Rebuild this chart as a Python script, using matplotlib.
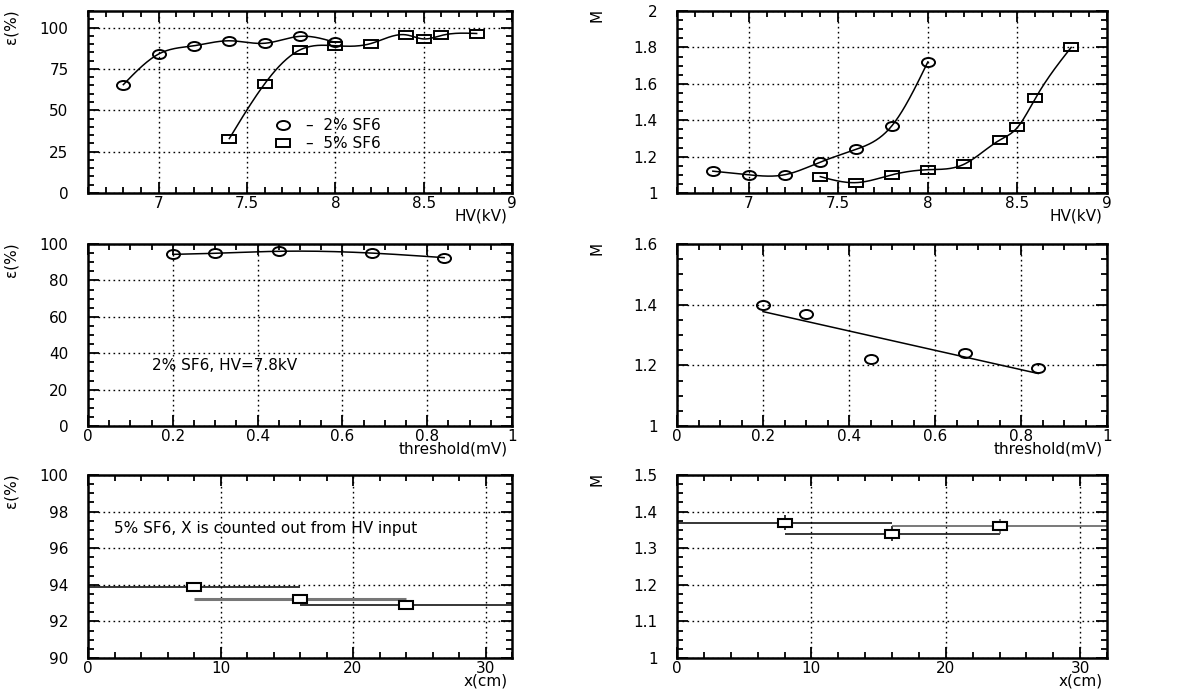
import numpy as np
import matplotlib.pyplot as plt
from matplotlib.markers import MarkerStyle
from matplotlib.transforms import Affine2D
from matplotlib.ticker import MultipleLocator, FormatStrFormatter
from matplotlib.lines import Line2D

# ---- data ----
hv_2 = [6.8, 7.0, 7.2, 7.4, 7.6, 7.8, 8.0]
eff_2 = [65.5, 84.0, 89.0, 92.0, 90.5, 94.7, 91.0]
hv_5 = [7.4, 7.6, 7.8, 8.0, 8.2, 8.4, 8.5, 8.6, 8.8]
eff_5 = [32.9, 66.0, 86.5, 89.0, 90.3, 95.6, 93.1, 95.2, 96.4]

m_2 = [1.12, 1.10, 1.10, 1.17, 1.24, 1.37, 1.72]
m_5 = [1.09, 1.057, 1.10, 1.128, 1.157, 1.29, 1.36, 1.52, 1.80]

thr = [0.2, 0.3, 0.45, 0.67, 0.84]
eff_thr = [94.3, 94.9, 96.0, 95.0, 92.5]
m_thr = [1.40, 1.37, 1.22, 1.24, 1.19]

xpos = [8, 16, 24]
xpos_err = [8, 8, 8]
eff_x = [93.9, 93.2, 92.9]
m_x = [1.37, 1.34, 1.36]
m_x_err = [0.02, 0.02, 0.02]


def spline(x, y, n=200):
    '''natural cubic spline, only used to draw the smooth curve'''
    x = np.asarray(x, float)
    y = np.asarray(y, float)
    k = len(x)
    h = np.diff(x)
    A = np.zeros((k, k))
    b = np.zeros(k)
    A[0, 0] = A[-1, -1] = 1
    for i in range(1, k - 1):
        A[i, i - 1] = h[i - 1]
        A[i, i] = 2 * (h[i - 1] + h[i])
        A[i, i + 1] = h[i]
        b[i] = 6 * ((y[i + 1] - y[i]) / h[i] - (y[i] - y[i - 1]) / h[i - 1])
    M = np.linalg.solve(A, b)
    xs = np.linspace(x[0], x[-1], n)
    j = np.clip(np.searchsorted(x, xs) - 1, 0, k - 2)
    t1 = x[j + 1] - xs
    t0 = xs - x[j]
    hj = h[j]
    ys = (M[j] * t1 ** 3 + M[j + 1] * t0 ** 3) / (6 * hj) \
        + (y[j] / hj - M[j] * hj / 6) * t1 + (y[j + 1] / hj - M[j + 1] * hj / 6) * t0
    return xs, ys


circ = MarkerStyle('o', transform=Affine2D().scale(1.45, 1.0))
sq = MarkerStyle('s', transform=Affine2D().scale(1.6, 1.0))
sq2 = MarkerStyle('s', transform=Affine2D().scale(1.75, 1.0))

plt.rcParams['font.family'] = ['DejaVu Sans']
plt.rcParams['font.size'] = 11

fig = plt.figure(figsize=(11.78, 6.91), dpi=100)
W, H = 1178, 691


def make_ax(left, right, top, bottom):
    return fig.add_axes([left / W, 1 - bottom / H, (right - left) / W, (bottom - top) / H])


def style(ax, xlim, ylim, xmaj, xmin, ymaj, ymin, xlabel, ylabel, ylab_x):
    ax.set_xlim(*xlim)
    ax.set_ylim(*ylim)
    ax.xaxis.set_major_locator(MultipleLocator(xmaj))
    ax.xaxis.set_minor_locator(MultipleLocator(xmin))
    ax.yaxis.set_major_locator(MultipleLocator(ymaj))
    ax.yaxis.set_minor_locator(MultipleLocator(ymin))
    ax.xaxis.set_major_formatter(FormatStrFormatter('%g'))
    ax.yaxis.set_major_formatter(FormatStrFormatter('%g'))
    ax.tick_params(which='both', direction='in', top=True, right=True, width=1.3)
    ax.tick_params(which='major', length=8)
    ax.tick_params(which='minor', length=4.5)
    ax.tick_params(axis='y', pad=14)
    ax.tick_params(axis='x', pad=2)
    ax.grid(True, which='major', color='black', linestyle=(0, (1.2, 2.4)), linewidth=1.0)
    for s in ax.spines.values():
        s.set_linewidth(1.8)
    ax.annotate(xlabel, xy=(0.99, 0), xycoords='axes fraction', xytext=(0, -11.5),
                textcoords='offset points', ha='right', va='top')
    top = ax.get_position().y1
    fig.text(ylab_x / W, top + 0.003, ylabel, ha='center', va='top', rotation=90)
    ax.set_axisbelow(True)


lx0, lx1 = 88, 512
rx0, rx1 = 677, 1107
rows = [(11, 193), (244, 426), (475, 658)]

# ---- efficiency vs HV ----
ax = make_ax(lx0, lx1, *rows[0])
style(ax, (6.6, 9), (0, 110), 0.5, 0.1, 25, 5, 'HV(kV)', 'ε(%)', 11)
ax.plot(*spline(hv_2, eff_2), color='black', lw=1.1)
ax.plot(*spline(hv_5, eff_5), color='black', lw=1.1)
ax.plot(hv_2, eff_2, ls='none', marker=circ, ms=6.5, mfc='none', mec='black', mew=1.4)
ax.plot(hv_5, eff_5, ls='none', marker=sq, ms=6, mfc='none', mec='black', mew=1.4)
handles = [Line2D([], [], ls='none', marker=circ, ms=6.5, mfc='none', mec='black', mew=1.4),
           Line2D([], [], ls='none', marker=sq, ms=6, mfc='none', mec='black', mew=1.4)]
ax.legend(handles, ['–  2% SF6', '–  5% SF6'], loc='center left', bbox_to_anchor=(0.41, 0.32),
          frameon=False, handletextpad=1.0, labelspacing=0.2, handlelength=1.0)

# ---- gain vs HV ----
ax = make_ax(rx0, rx1, *rows[0])
style(ax, (6.6, 9), (1, 2), 0.5, 0.1, 0.2, 0.05, 'HV(kV)', 'M', 597)
ax.plot(*spline(hv_2, m_2), color='black', lw=1.1)
ax.plot(*spline(hv_5, m_5), color='black', lw=1.1)
ax.plot(hv_2, m_2, ls='none', marker=circ, ms=6.5, mfc='none', mec='black', mew=1.4)
ax.plot(hv_5, m_5, ls='none', marker=sq, ms=6, mfc='none', mec='black', mew=1.4)

# ---- efficiency vs threshold ----
ax = make_ax(lx0, lx1, *rows[1])
style(ax, (0, 1), (0, 100), 0.2, 0.05, 20, 5, 'threshold(mV)', 'ε(%)', 11)
ax.plot(*spline(thr, eff_thr), color='black', lw=1.1)
ax.plot(thr, eff_thr, ls='none', marker=circ, ms=6.5, mfc='none', mec='black', mew=1.4)
ax.text(0.15, 33, '2% SF6, HV=7.8kV', va='center', ha='left')

# ---- gain vs threshold, linear fit ----
ax = make_ax(rx0, rx1, *rows[1])
style(ax, (0, 1), (1, 1.6), 0.2, 0.05, 0.2, 0.05, 'threshold(mV)', 'M', 597)
p = np.polyfit(thr, m_thr, 1)
fx = np.array([thr[0], thr[-1]])
ax.plot(fx, np.polyval(p, fx), color='black', lw=1.1)
ax.plot(thr, m_thr, ls='none', marker=circ, ms=6.5, mfc='none', mec='black', mew=1.4)

# ---- efficiency vs position ----
ax = make_ax(lx0, lx1, *rows[2])
style(ax, (0, 32), (90, 100), 10, 2, 2, 0.5, 'x(cm)', 'ε(%)', 11)
bar_col = ['black', '#777777', 'black']
bar_lw = [1.1, 2.2, 1.1]
for i in range(len(xpos)):
    ax.errorbar(xpos[i], eff_x[i], xerr=xpos_err[i], fmt='none', ecolor=bar_col[i],
                elinewidth=bar_lw[i], capsize=0)
ax.plot(xpos, eff_x, ls='none', marker=sq2, ms=5.5, mfc='white', mec='black', mew=1.5, zorder=5)
ax.text(2, 97.1, '5% SF6, X is counted out from HV input', va='center', ha='left')

# ---- gain vs position ----
ax = make_ax(rx0, rx1, *rows[2])
style(ax, (0, 32), (1, 1.5), 10, 2, 0.1, 0.025, 'x(cm)', 'M', 597)
bar_col = ['black', 'black', '#555555']
for i in range(len(xpos)):
    ax.errorbar(xpos[i], m_x[i], xerr=xpos_err[i], yerr=m_x_err[i], fmt='none',
                ecolor=bar_col[i], elinewidth=1.1, capsize=0)
ax.plot(xpos, m_x, ls='none', marker=sq2, ms=5.5, mfc='white', mec='black', mew=1.5, zorder=5)

fig.savefig('out.png', dpi=100)
